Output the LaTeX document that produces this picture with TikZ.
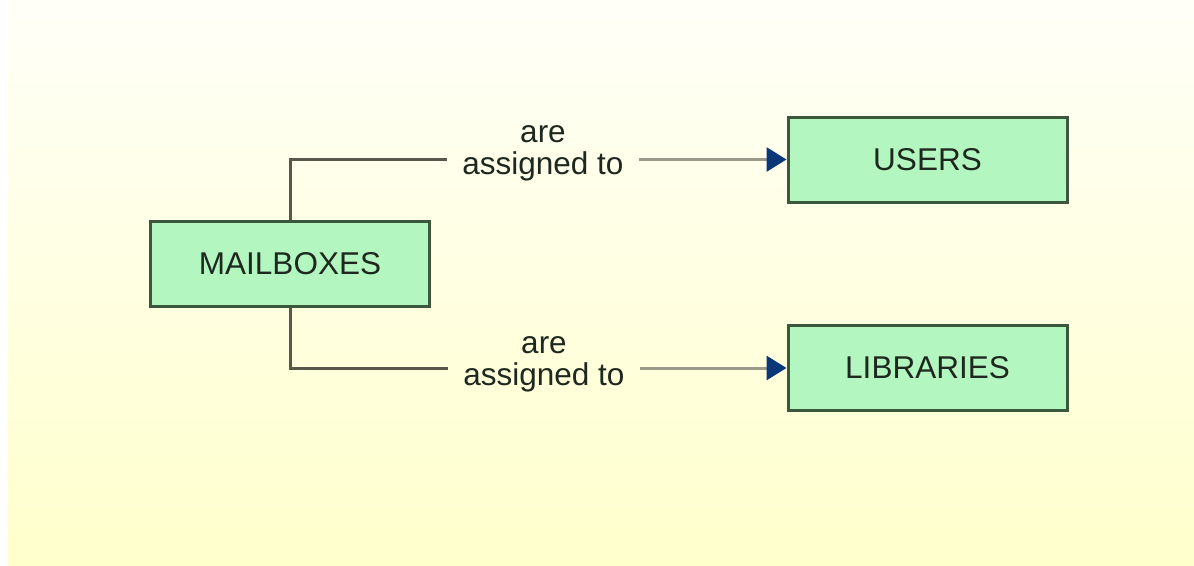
\documentclass[tikz,border=0pt]{standalone}
\usepackage{fontspec}
\setmainfont{Liberation Sans}
\usetikzlibrary{arrows.meta}
\definecolor{boxfill}{RGB}{180,246,192}
\definecolor{boxline}{RGB}{60,88,60}
\definecolor{txt}{RGB}{30,40,30}
\definecolor{connA}{RGB}{88,88,74}
\definecolor{connB}{RGB}{155,155,140}
\definecolor{tipc}{RGB}{10,55,120}
\definecolor{bgtop}{RGB}{255,255,248}
\definecolor{bgbot}{RGB}{255,255,204}
\tikzset{
  entity/.style={draw=boxline, line width=3pt, fill=boxfill, text=txt,
    minimum width=279pt, minimum height=85pt, inner sep=0pt,
    font=\fontsize{31.5}{32}\selectfont},
  rel/.style={text=txt, align=center, inner xsep=15pt, inner ysep=0pt,
    font=\fontsize{31.5}{32}\selectfont},
  connleft/.style={draw=connA, line width=3pt},
  connright/.style={draw=connB, line width=3pt,
    -{Triangle[length=20pt,width=24pt,color=tipc]}},
}
\begin{document}
\begin{tikzpicture}[x=1pt,y=-1pt]
\useasboundingbox (0,0) rectangle (1194,565);
\shade[top color=bgtop, bottom color=bgbot] (8,0) rectangle (1194,565);
\node[entity] (mb) at (290,263.5) {MAILBOXES};
\node[entity] (users) at (927.5,159.5) {USERS};
\node[entity] (libs) at (927.5,368) {LIBRARIES};
\node[rel] (lab1) at (543,153) {are\\assigned to};
\node[rel] (lab2) at (544,364) {are\\assigned to};
\draw[connleft] (mb.north) |- (lab1.west |- users.west);
\draw[connright] (lab1.east |- users.west) -- (users.west);
\draw[connleft] (mb.south) |- (lab2.west |- libs.west);
\draw[connright] (lab2.east |- libs.west) -- (libs.west);
\end{tikzpicture}
\end{document}
